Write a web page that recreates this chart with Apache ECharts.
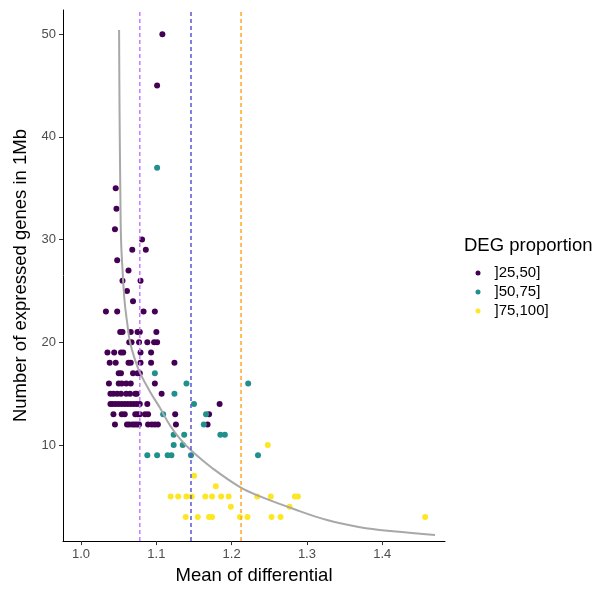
<!DOCTYPE html>
<html><head><meta charset="utf-8">
<script src="https://cdn.jsdelivr.net/npm/echarts@6/dist/echarts.min.js"></script>
<style>html,body{margin:0;padding:0;background:#fff}#c{width:595px;height:590px}</style>
</head><body><div id="c"></div>
<script>
// ---- data ----
const groupNames = [']25,50]', ']50,75]', ']75,100]'];
const groupColors = ['#440154', '#21908C', '#FDE725'];

const g25_50 = [
  [1.108,50],[1.101,45],[1.046,35],[1.047,33],[1.045,31],[1.081,30],
  [1.068,29],[1.086,29],[1.048,28],[1.063,27],[1.055,26],[1.079,26],[1.061,25],[1.069,24],
  [1.033,23],[1.048,23],[1.083,23],[1.098,23],
  [1.052,21],[1.055,21],[1.066,21],[1.075,21],[1.078,21],[1.100,21],
  [1.064,20],[1.067,20],[1.077,20],[1.088,20],[1.097,20],[1.101,20],
  [1.035,19],[1.044,19],[1.053,19],[1.056,19],[1.079,19],[1.093,19],
  [1.038,18],[1.046,18],[1.063,18],[1.066,18],[1.079,18],[1.093,18],[1.124,18],
  [1.050,17],[1.053,17],[1.069,17],[1.075,17],[1.078,17],
  [1.037,16],[1.050,16],[1.054,16],[1.060,16],[1.066,16],[1.098,16],
  [1.039,15],[1.043,15],[1.048,15],[1.053,15],[1.060,15],[1.065,15],[1.072,15],[1.074,15],[1.107,15],
  [1.039,14],[1.042,14],[1.046,14],[1.050,14],[1.054,14],[1.058,14],[1.062,14],[1.066,14],[1.070,14],[1.074,14],[1.078,14],[1.088,14],[1.184,14],
  [1.043,13],[1.054,13],[1.058,13],[1.072,13],[1.075,13],[1.078,13],[1.085,13],[1.089,13],[1.125,13],[1.170,13],
  [1.045,12],[1.061,12],[1.064,12],[1.068,12],[1.071,12],[1.074,12],[1.077,12],[1.089,12],[1.094,12],[1.098,12],[1.102,12],[1.126,12],[1.168,12]
];
const g50_75 = [
  [1.101,37],[1.098,17],[1.140,16],[1.222,16],[1.124,15],[1.150,14],
  [1.109,13],[1.166,13],[1.163,12],
  [1.123,11],[1.137,11],[1.185,11],[1.191,11],
  [1.123,10],[1.135,10],
  [1.088,9],[1.101,9],[1.115,9],[1.120,9],[1.146,9],[1.235,9]
];
const g75_100 = [
  [1.248,10],[1.150,7],[1.179,6],
  [1.119,5],[1.129,5],[1.140,5],[1.147,5],[1.165,5],[1.174,5],[1.186,5],[1.196,5],[1.234,5],[1.252,5],[1.284,5],[1.288,5],
  [1.199,4],[1.277,4],
  [1.139,3],[1.155,3],[1.170,3],[1.174,3],[1.211,3],[1.221,3],[1.253,3],[1.265,3],[1.457,3]
];
// fitted curve
const curveX = [1.0505,1.0509,1.0514,1.0521,1.0531,1.0551,1.0578,1.0611,1.0651,1.0717,1.0784,1.0916,1.1049,1.1182,1.1315,1.1474,1.1753,1.2112,1.2377,1.2815,1.3267,1.3705,1.4143,1.4701];
const curveY = [50.4,45,40,35,30,27,24,22,20,18.3,17.0,15.2,13.6,11.9,10.6,9.4,7.7,5.9,5.0,3.8,2.7,2.0,1.6,1.25];
// vertical reference lines
const vlineX = [1.078, 1.146, 1.2125];
const vlineColors = ['#C57CFF', '#5B55CF', '#FFA726'];
// axis limits and ticks
const xLim = [0.976, 1.4834];
const yLim = [0.65, 52.35];
const xTicks = [1.0, 1.1, 1.2, 1.3, 1.4];
const yTicks = [10, 20, 30, 40, 50];

// ---- chart ----
const FONT = 'Liberation Sans, Arial, sans-serif';
const chart = echarts.init(document.getElementById('c'), null, {renderer: 'canvas'});
const groups = [g25_50, g50_75, g75_100];
const series = groups.map((d, i) => ({
  name: groupNames[i], type: 'scatter', data: d, symbol: 'circle', symbolSize: 6,
  itemStyle: {color: groupColors[i], opacity: 1}, z: 2, silent: true
}));
series.push({
  name: 'curve', type: 'line', data: curveX.map((x, i) => [x, curveY[i]]), smooth: 0.4, showSymbol: false,
  lineStyle: {color: '#A8A8A8', width: 2}, itemStyle: {color: '#A8A8A8'}, z: 3, silent: true
});
vlineX.forEach((x, i) => {
  series.push({
    name: 'vline' + i, type: 'line', data: [[x, yLim[0]], [x, yLim[1]]], z: 4, silent: true,
    showSymbol: false, symbol: 'none',
    itemStyle: {color: vlineColors[i]},
    lineStyle: {color: vlineColors[i], type: [4, 3], width: 1.5, opacity: 1}
  });
});

chart.setOption({
  animation: false,
  backgroundColor: '#fff',
  grid: {left: 63, right: 150, top: 10, bottom: 46},
  title: {text: 'DEG proportion', left: 464, top: 236, padding: 0,
    textStyle: {fontFamily: FONT, fontSize: 18.5, fontWeight: 'normal', color: '#000'}},
  legend: {
    data: groupNames, orient: 'vertical', left: 470.5, top: 260.5, icon: 'circle',
    itemWidth: 5, itemHeight: 5, itemGap: 4,
    textStyle: {fontFamily: FONT, fontSize: 15, color: '#000', lineHeight: 15, padding: [0, 0, 0, 9]}
  },
  xAxis: {
    type: 'value', min: xLim[0], max: xLim[1],
    name: 'Mean of differential', nameLocation: 'middle', nameGap: 24,
    nameTextStyle: {fontFamily: FONT, fontSize: 18.5, color: '#000'},
    axisLine: {show: true, lineStyle: {color: '#000', width: 1}},
    axisTick: {show: true, length: 4, customValues: xTicks, lineStyle: {color: '#333'}},
    axisLabel: {customValues: xTicks, margin: 7, fontFamily: FONT, fontSize: 13, color: '#4D4D4D',
      formatter: v => v.toFixed(1)},
    splitLine: {show: false}
  },
  yAxis: {
    type: 'value', min: yLim[0], max: yLim[1],
    name: 'Number of expressed genes in 1Mb', nameLocation: 'middle', nameGap: 32,
    nameTextStyle: {fontFamily: FONT, fontSize: 18.5, color: '#000'},
    axisLine: {show: true, lineStyle: {color: '#000', width: 1}},
    axisTick: {show: true, length: 4, customValues: yTicks, lineStyle: {color: '#333'}},
    axisLabel: {customValues: yTicks, margin: 7, fontFamily: FONT, fontSize: 13, color: '#4D4D4D'},
    splitLine: {show: false}
  },
  series: series
});
</script></body></html>
